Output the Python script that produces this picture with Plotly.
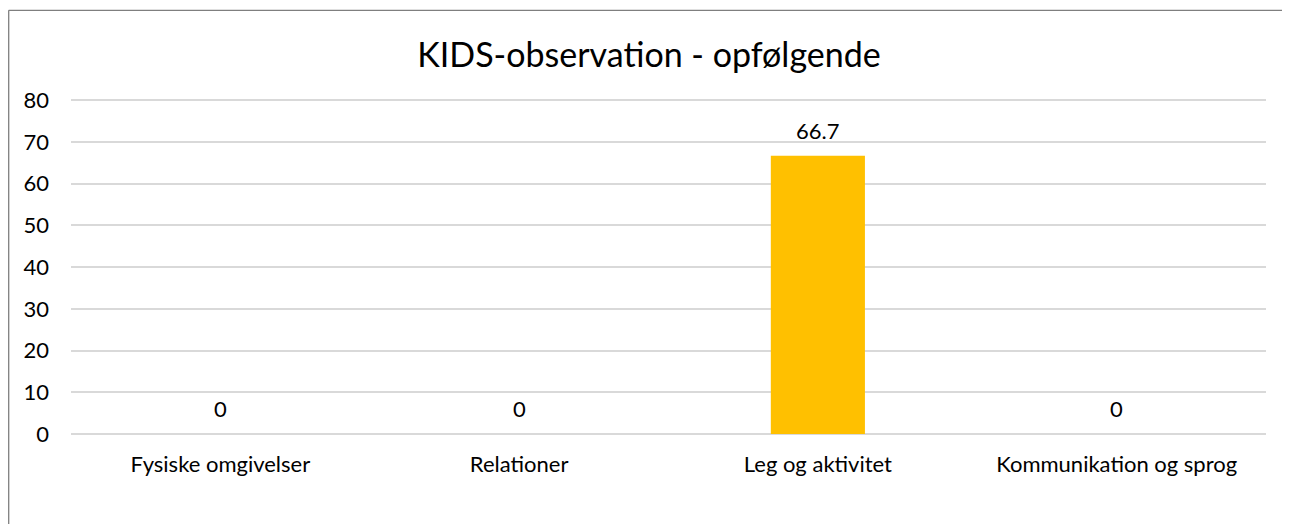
import plotly.graph_objects as go

categories = ["Fysiske omgivelser", "Relationer", "Leg og aktivitet", "Kommunikation og sprog"]
values = [0, 0, 66.7, 0]
labels = ["0", "0", "66.7", "0"]
y_ticks = [0, 10, 20, 30, 40, 50, 60, 70, 80]
title_text = "KIDS-observation - opfølgende"

FONT = "Lato, 'Open Sans', sans-serif"
OFF = 8  # page body margin offset
W, H = 1300, 524

fig = go.Figure()
fig.add_trace(go.Bar(
    x=categories, y=values,
    marker=dict(color="#FFC000", line=dict(width=0)),
    hoverinfo="x+y",
))

for c, v, t in zip(categories, values, labels):
    fig.add_annotation(x=c, y=v, text=t, showarrow=False, yanchor="bottom",
                       yshift=10, font=dict(family=FONT, size=22, color="#000000"))

YMAX = 80.3
L = 71 - OFF
R = W - (1266 - OFF)
T0, B0 = 100, 434  # screen y of 80 and 0
pxper = (B0 - T0) / 80.0
top_screen = B0 - YMAX * pxper
T = top_screen - OFF
B = H - (B0 - OFF)
pw, ph = W - L - R, H - T - B
bx = (0.7 - L) / pw
by = 1 + (T - (10 - OFF)) / ph
fig.add_shape(type="line", xref="paper", yref="paper", x0=bx, x1=bx, y0=-0.6, y1=by,
              line=dict(color="#7F7F7F", width=1.3))
fig.add_shape(type="line", xref="paper", yref="paper", x0=bx, x1=1.2, y0=by, y1=by,
              line=dict(color="#7F7F7F", width=1.3))

fig.update_layout(
    width=W, height=H,
    margin=dict(l=L, r=R, t=T, b=B, autoexpand=False),
    paper_bgcolor="white", plot_bgcolor="white",
    bargap=0.685,
    showlegend=False,
    title=dict(text=title_text, x=(649 - OFF) / W, xref="container", xanchor="center",
               y=1 - (55 - OFF) / H, yanchor="middle", yref="container",
               font=dict(family=FONT, size=34, color="#000000")),
    xaxis=dict(showgrid=False, showline=False, zeroline=False, ticks="",
               tickfont=dict(family=FONT, size=22, color="#000000"),
               ticklabelstandoff=15),
    yaxis=dict(range=[0, YMAX], tickvals=y_ticks, showgrid=True, gridcolor="#D9D9D9",
               gridwidth=1.5, zeroline=True, zerolinecolor="#D9D9D9", zerolinewidth=1.5,
               showline=False, ticks="",
               tickfont=dict(family=FONT, size=22, color="#000000"),
               ticklabelstandoff=21),
    font=dict(family=FONT),
)

fig.write_html("out.html")
